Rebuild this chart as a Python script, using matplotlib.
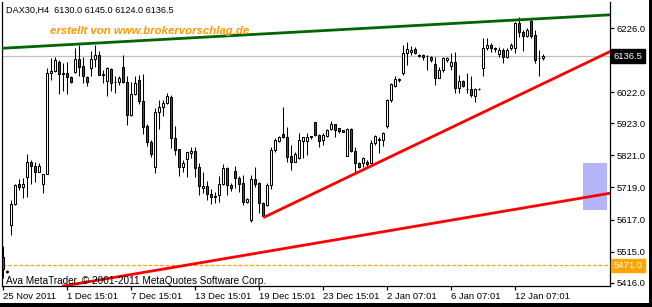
import matplotlib
matplotlib.use("Agg")
import matplotlib.pyplot as plt
from matplotlib.patches import Rectangle

# DAX30 H4 candles, one entry per bar (oldest first)
opens = [5498, 5452, 5600, 5667, 5730, 5720, 5752, 5800, 5788, 5768,
         5730, 5762, 6083, 6090, 6118, 6084, 6082, 6070, 6087, 6127,
         6106, 6070, 6099, 6128, 6139, 6078, 6058, 6096, 6055, 6055,
         6101, 6056, 5950, 6016, 6061, 5994, 5914, 5863, 5785, 5958,
         5975, 5989, 6008, 5876, 5841, 5784, 5809, 5830, 5835, 5785,
         5717, 5724, 5698, 5690, 5695, 5730, 5780, 5727, 5772, 5748,
         5733, 5674, 5616, 5745, 5733, 5671, 5664, 5727, 5838, 5868,
         5888, 5881, 5819, 5801, 5814, 5868, 5868, 5883, 5926, 5886,
         5870, 5883, 5904, 5920, 5907, 5902, 5819, 5904, 5836, 5798,
         5798, 5801, 5798, 5860, 5874, 5870, 5913, 5997, 6042, 6062,
         6084, 6146, 6150, 6159, 6140, 6140, 6137, 6135, 6111, 6068,
         6093, 6125, 6106, 6117, 6035, 6058, 6032, 6031, 6011, 6031,
         6098, 6162, 6172, 6163, 6143, 6156, 6133, 6162, 6162, 6241,
         6215, 6201, 6250, 6204, 6130, 6130]
highs = [5534, 5456, 5679, 5730, 5745, 5749, 5826, 5806, 5800, 5797,
         5762, 6099, 6132, 6135, 6125, 6114, 6118, 6072, 6162, 6172,
         6135, 6072, 6153, 6172, 6153, 6094, 6102, 6099, 6072, 6074,
         6139, 6072, 6056, 6072, 6077, 6080, 5921, 5870, 5971, 5997,
         5997, 6018, 6012, 5915, 5841, 5806, 5833, 5849, 5849, 5796,
         5769, 5738, 5714, 5704, 5756, 5794, 5785, 5733, 5788, 5756,
         5759, 5684, 5759, 5785, 5735, 5674, 5733, 5849, 5876, 5883,
         5976, 5911, 5854, 5833, 5891, 5881, 5891, 5884, 5928, 5889,
         5891, 5904, 5932, 5921, 5909, 5903, 5907, 5907, 5849, 5801,
         5817, 5807, 5870, 5886, 5881, 5896, 6000, 6050, 6072, 6068,
         6172, 6183, 6170, 6167, 6143, 6143, 6140, 6137, 6135, 6103,
         6135, 6135, 6146, 6151, 6077, 6062, 6082, 6072, 6035, 6035,
         6194, 6194, 6178, 6167, 6167, 6162, 6162, 6178, 6246, 6262,
         6220, 6225, 6254, 6220, 6156, 6145]
lows = [5431, 5446, 5568, 5664, 5712, 5685, 5689, 5730, 5736, 5768,
        5701, 5762, 6061, 6087, 6017, 6026, 6017, 6050, 6082, 6072,
        6050, 6043, 6072, 6103, 6076, 6050, 6011, 6026, 6021, 6045,
        6050, 5918, 5947, 6014, 5983, 5890, 5852, 5816, 5766, 5904,
        5947, 5985, 5844, 5822, 5754, 5769, 5752, 5812, 5753, 5695,
        5701, 5679, 5666, 5669, 5674, 5727, 5695, 5709, 5717, 5706,
        5664, 5671, 5610, 5722, 5637, 5627, 5660, 5714, 5833, 5865,
        5876, 5801, 5773, 5799, 5809, 5812, 5823, 5872, 5883, 5849,
        5854, 5881, 5902, 5881, 5891, 5894, 5819, 5833, 5769, 5780,
        5785, 5781, 5796, 5854, 5828, 5851, 5908, 5991, 6039, 6056,
        6077, 6109, 6140, 6143, 6133, 6125, 6093, 6117, 6045, 6066,
        6087, 6117, 6093, 6019, 6019, 6040, 6019, 6008, 5992, 6029,
        6072, 6156, 6151, 6151, 6135, 6114, 6130, 6156, 6148, 6199,
        6154, 6199, 6194, 6114, 6072, 6124]
closes = [5460, 5451, 5667, 5727, 5720, 5730, 5800, 5788, 5768, 5788,
          5762, 6083, 6090, 6125, 6080, 6080, 6070, 6056, 6127, 6103,
          6072, 6056, 6128, 6139, 6078, 6080, 6099, 6052, 6056, 6068,
          6056, 5950, 6016, 6050, 5993, 5911, 5863, 5826, 5958, 5976,
          5989, 6010, 5876, 5838, 5784, 5798, 5831, 5835, 5782, 5724,
          5724, 5698, 5690, 5693, 5730, 5780, 5727, 5717, 5748, 5729,
          5674, 5682, 5745, 5730, 5671, 5629, 5727, 5838, 5870, 5878,
          5878, 5817, 5801, 5826, 5870, 5878, 5881, 5878, 5886, 5868,
          5886, 5902, 5921, 5902, 5900, 5895, 5904, 5836, 5796, 5785,
          5812, 5794, 5862, 5883, 5870, 5891, 5997, 6047, 6063, 6064,
          6146, 6159, 6156, 6146, 6138, 6133, 6136, 6125, 6068, 6093,
          6130, 6130, 6117, 6035, 6059, 6042, 6031, 6013, 6032, 6033,
          6162, 6172, 6162, 6161, 6156, 6133, 6156, 6172, 6241, 6215,
          6201, 6220, 6201, 6125, 6130, 6136.5]

date_labels = ["25 Nov 2011", "1 Dec 15:01", "7 Dec 15:01", "13 Dec 15:01",
               "19 Dec 15:01", "23 Dec 15:01", "2 Jan 07:01", "6 Jan 07:01",
               "12 Jan 07:01"]
price_ticks = [6226.0, 6124.0, 6022.0, 5923.0, 5821.0, 5719.0, 5617.0, 5515.0, 5416.0]

# trend lines as (bar, price) anchors
green_trend = ([0, 150], [6162, 6267])
red_trend_up = ([65, 150], [5623, 6141])
red_trend_low = ([50, 150], [5481, 5697])
box_bars = (144.85, 150.85)
box_prices = (5648, 5798)
last_price = 6136.5
level_price = 5471.0

FONT = "Liberation Sans"
FS = 6.8


def draw_candles(ax):
    for i, (o, h, l, c) in enumerate(zip(opens, highs, lows, closes)):
        ax.vlines(i, l, h, color="black", linewidth=0.75, zorder=3)
        bottom = min(o, c)
        height = max(abs(c - o), 0.6)
        face = "white" if c >= o else "#ff0000"
        ax.add_patch(Rectangle((i - 0.26, bottom), 0.52, height, facecolor=face,
                               edgecolor="black", linewidth=0.75, zorder=4))


def main():
    fig = plt.figure(figsize=(6.52, 3.07), dpi=100)
    ax = fig.add_axes([2 / 652, 1 - 286 / 307, 608 / 652, 284 / 307])
    ax.set_xlim(-0.33, 151.7)
    ax.set_ylim(5405.5, 6309)

    ax.spines["top"].set_visible(False)
    for side in ("left", "right", "bottom"):
        ax.spines[side].set_linewidth(0.9)

    # price levels
    ax.axhline(last_price, color="#c0c0c0", linewidth=0.9, zorder=1)
    ax.axhline(level_price, color="#ffa500", linewidth=0.9, dashes=(3, 1.5), zorder=1)

    draw_candles(ax)

    ax.axline((green_trend[0][0], green_trend[1][0]), (green_trend[0][1], green_trend[1][1]),
              color="#006400", linewidth=2.0, zorder=5)
    slope = (red_trend_up[1][1] - red_trend_up[1][0]) / (red_trend_up[0][1] - red_trend_up[0][0])
    ax.plot([red_trend_up[0][0], 170],
            [red_trend_up[1][0], red_trend_up[1][0] + (170 - red_trend_up[0][0]) * slope],
            color="red", linewidth=2.0, zorder=5, solid_capstyle="butt")
    ax.axline((red_trend_low[0][0], red_trend_low[1][0]), (red_trend_low[0][1], red_trend_low[1][1]),
              color="red", linewidth=2.0, zorder=5)

    ax.add_patch(Rectangle((box_bars[0], box_prices[0]), box_bars[1] - box_bars[0],
                           box_prices[1] - box_prices[0], facecolor="#b4b4f8",
                           edgecolor="none", zorder=2))

    # axes
    ax.yaxis.tick_right()
    ax.set_yticks(price_ticks)
    ax.set_yticklabels([f"{p:.1f}" for p in price_ticks], fontsize=FS, family=FONT)
    ax.tick_params(axis="y", length=3, width=0.9, pad=2)
    ax.set_xticks(range(0, 16 * len(date_labels), 16))
    ax.set_xticklabels(date_labels, fontsize=FS, family=FONT, ha="left")
    ax.tick_params(axis="x", length=3, width=0.9, pad=1.5)

    tr = ax.get_yaxis_transform()
    ax.text(1.006, last_price, f"{last_price:.1f}", transform=tr, fontsize=FS, family=FONT,
            color="white", va="center", ha="left",
            bbox=dict(boxstyle="square,pad=0.25", facecolor="black", edgecolor="black"), zorder=10)
    ax.text(1.006, level_price, f"{level_price:.1f}", transform=tr, fontsize=FS, family=FONT,
            color="white", va="center", ha="left",
            bbox=dict(boxstyle="square,pad=0.25", facecolor="#ffa500", edgecolor="#ffa500"), zorder=10)

    header = "DAX30,H4  " + " ".join(f"{v:.1f}" for v in (opens[-1], highs[-1], lows[-1], closes[-1]))
    fig.text(6 / 652, 1 - 10 / 307, header, fontsize=6.6, family=FONT, va="center")
    fig.text(50 / 652, 1 - 31.5 / 307, "erstellt von www.brokervorschlag.de", fontsize=8.2,
             family=FONT, color="#ff9900", style="italic", weight="bold", va="center")
    fig.text(6 / 652, 1 - 281 / 307, "Ava MetaTrader, \u00a9 2001-2011 MetaQuotes Software Corp.",
             fontsize=7.2, family=FONT, va="center")

    # window frame shadow
    fig.patches.append(Rectangle((649 / 652, 0), 3 / 652, 1, transform=fig.transFigure,
                                 facecolor="black", edgecolor="none"))
    fig.patches.append(Rectangle((0, 0), 1, 4 / 307, transform=fig.transFigure,
                                 facecolor="black", edgecolor="none"))

    fig.savefig("out.png", dpi=100)


if __name__ == "__main__":
    main()
